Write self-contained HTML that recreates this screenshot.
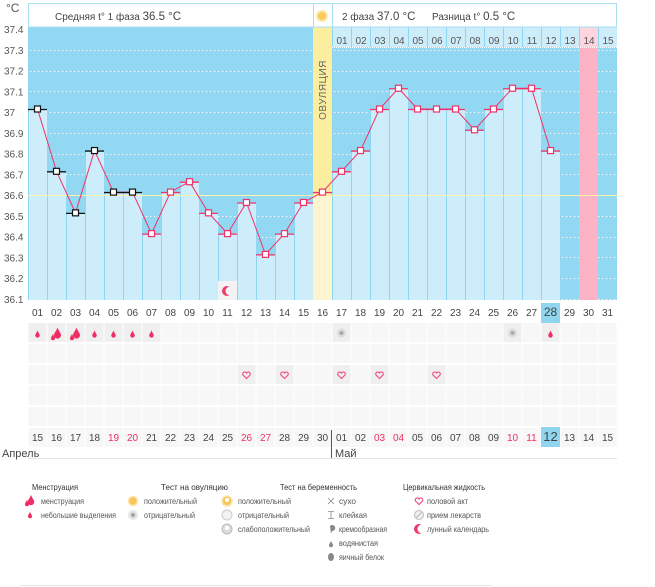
<!DOCTYPE html>
<html><head><meta charset="utf-8">
<style>
html,body{margin:0;padding:0;background:#fff;}
svg{display:block;font-family:"Liberation Sans","DejaVu Sans",sans-serif;}
</style></head>
<body>
<svg id="s" width="655" height="587" viewBox="0 0 655 587" xmlns="http://www.w3.org/2000/svg"></svg>
<script>
var S=document.getElementById('s');
var h='';
function X(i){return 28+19*(i-1);}
function Y(v){return 29+(37.4-v)/0.1*20.77-1;}
h+='<rect x="28" y="27" width="589" height="273" fill="#93d8f2"/>';
for(var k=0;k<13;k++){var v=37.3-k*0.1;var y=Math.round(Y(v)+1)+0.5;
 h+='<line x1="30" x2="617" y1="'+y+'" y2="'+y+'" stroke="#fff" stroke-dasharray="1.2,2.8" stroke-width="1"/>';}
var vals=[37.01,36.71,36.51,36.81,36.61,36.61,36.41,36.61,36.66,36.51,36.41,36.56,36.31,36.41,36.56,36.61,36.71,36.81,37.01,37.11,37.01,37.01,37.01,36.91,37.01,37.11,37.11,36.81];
h+='<rect x="'+X(16)+'" y="27" width="19" height="273" fill="#fbee9e"/>';
h+='<rect x="'+X(16)+'" y="195" width="19" height="105" fill="#fdf5cf"/>';
h+='<rect x="'+X(30)+'" y="27" width="19" height="273" fill="#fbb3c5"/>';
for(var i=1;i<=28;i++){if(i==16)continue;var y=Y(vals[i-1]);
 h+='<rect x="'+X(i)+'" y="'+y+'" width="19" height="'+(300-y)+'" fill="#cdedfb"/>';
 h+='<line x1="'+(X(i)+0.5)+'" x2="'+(X(i)+0.5)+'" y1="'+y+'" y2="300" stroke="#8fd5ef"/>';}
h+='<line x1="'+(X(17)+0.5)+'" x2="'+(X(17)+0.5)+'" y1="27" y2="300" stroke="#8fd5ef"/>';
for(var i=17;i<=31;i++){var fill=i==30?'#fcd5df':'#cdedfb';
 h+='<rect x="'+X(i)+'" y="27" width="19" height="20" fill="'+fill+'"/>';
 h+='<line x1="'+(X(i)+0.5)+'" x2="'+(X(i)+0.5)+'" y1="27" y2="47" stroke="#8fd5ef"/>';
 var d=i-16;h+='<text x="'+(X(i)+10)+'" y="44" font-size="10" fill="#555" text-anchor="middle">'+(d<10?'0'+d:d)+'</text>';}
h+='<line x1="'+X(17)+'" x2="617" y1="47.5" y2="47.5" stroke="#fff" stroke-dasharray="1,1"/>';
h+='<line x1="28" x2="617" y1="195.5" y2="195.5" stroke="#fdf2a8" stroke-width="1"/>';
h+='<text transform="translate(326,90) rotate(-90)" font-size="10" fill="#666" text-anchor="middle" letter-spacing="0.5">ОВУЛЯЦИЯ</text>';
var pts=[];for(var i=1;i<=28;i++)pts.push((X(i)+9.5)+','+Y(vals[i-1]));
h+='<polyline points="'+pts.join(' ')+'" fill="none" stroke="#f0326a" stroke-width="1"/>';
for(var i=1;i<=28;i++){var c=i<=6?'#111':'#f0326a';var y=Y(vals[i-1]);var cx=X(i)+9.5;
 h+='<line x1="'+X(i)+'" x2="'+(X(i)+19)+'" y1="'+(y+0.5)+'" y2="'+(y+0.5)+'" stroke="'+c+'" stroke-width="1.3"/>';
 h+='<rect x="'+(cx-3)+'" y="'+(y-3)+'" width="6" height="6" fill="#fff" stroke="'+c+'" stroke-width="1.2"/>';}
h+='<rect x="28.5" y="3.5" width="588" height="23.5" fill="#fff" stroke="#a9def3"/>';
h+='<line x1="'+(X(16)+0.5)+'" x2="'+(X(16)+0.5)+'" y1="3" y2="27" stroke="#a9def3"/>';
h+='<line x1="'+(X(17)+0.5)+'" x2="'+(X(17)+0.5)+'" y1="3" y2="27" stroke="#a9def3"/>';
h+='<circle cx="322" cy="16" r="5" fill="#f9c95c" stroke="#fde7b0" stroke-width="2"/>';
h+='<text x="55" y="20" font-size="10" fill="#444">Средняя t° 1 фаза <tspan font-size="11.5">36.5 °C</tspan></text>';
h+='<text x="342" y="20" font-size="10" fill="#444">2 фаза <tspan font-size="11.5">37.0 °C</tspan></text>';
h+='<text x="432" y="20" font-size="10" fill="#444">Разница t° <tspan font-size="11.5">0.5 °C</tspan></text>';
h+='<text x="6" y="12" font-size="12" fill="#555">°C</text>';
for(var k=0;k<=13;k++){var v=(37.4-k*0.1);var s=v.toFixed(1);if(s=='37.0')s='37';
 h+='<text x="4" y="'+(Y(v)+5)+'" font-size="10" fill="#555">'+s+'</text>';}
h+='<rect x="'+X(11)+'" y="281" width="19" height="19" fill="#f3f3f3"/>';
h+='<circle cx="'+(X(11)+9)+'" cy="291" r="5" fill="#f03a6a"/><circle cx="'+(X(11)+12)+'" cy="291" r="4.5" fill="#f3f3f3"/>';
h+='<rect x="'+X(28)+'" y="303" width="19" height="20" fill="#8fd5ef"/>';
for(var i=1;i<=31;i++){var t=i<10?'0'+i:''+i;
 h+='<text x="'+(X(i)+9.5)+'" y="316" font-size="'+(i==28?12:10)+'" fill="#444" text-anchor="middle">'+t+'</text>';}
var rows=[323,344,365,386,407];
var filled={'0':[1,2,3,4,5,6,7,17,26,28],'2':[12,14,17,19,22]};
for(var r=0;r<5;r++)for(var i=1;i<=31;i++){var f=filled[r]&&filled[r].indexOf(i)>=0;
 h+='<rect x="'+(X(i)+0.5)+'" y="'+rows[r]+'" width="18" height="19" fill="'+(f?'#efefef':'#f7f7f8')+'"/>';}
function drop(cx,cy,s,c){return '<path d="M'+cx+','+(cy-4*s)+' C'+(cx+1*s)+','+(cy-1*s)+' '+(cx+2.5*s)+','+(cy)+' '+(cx+2.5*s)+','+(cy+1.5*s)+' A'+2.5*s+','+2.5*s+' 0 0 1 '+(cx-2.5*s)+','+(cy+1.5*s)+' C'+(cx-2.5*s)+','+cy+' '+(cx-1*s)+','+(cy-1*s)+' '+cx+','+(cy-4*s)+'Z" fill="'+(c||'#ef2e63')+'"/>';}
[1,4,5,6,7,28].forEach(function(i){h+=drop(X(i)+9.5,334,0.9);});
[2,3].forEach(function(i){h+=drop(X(i)+10.5,333,1.4);h+=drop(X(i)+6,337,0.8);});
[17,26].forEach(function(i){h+='<circle cx="'+(X(i)+9.5)+'" cy="333" r="5" fill="#ddd" stroke="#eee"/><circle cx="'+(X(i)+9.5)+'" cy="333" r="2" fill="#aaa"/>';});
function heart(cx,cy,c){return '<path d="M'+cx+','+(cy+3.5)+' L'+(cx-3.5)+','+(cy)+' A1.8,1.8 0 0 1 '+cx+','+(cy-2)+' A1.8,1.8 0 0 1 '+(cx+3.5)+','+cy+' Z" fill="none" stroke="'+(c||'#f0508a')+'" stroke-width="1.2"/>';}
[12,14,17,19,22].forEach(function(i){h+=heart(X(i)+9.5,375);});
for(var i=1;i<=31;i++)h+='<rect x="'+(X(i)+0.5)+'" y="428" width="18" height="19" fill="#f7f7f8"/>';
h+='<rect x="'+X(28)+'" y="427" width="19" height="20" fill="#8fd5ef"/>';
var red=[5,6,12,13,19,20,26,27];
for(var i=1;i<=31;i++){var d=i<=16?14+i:i-16;var t=d<10?'0'+d:''+d;
 h+='<text x="'+(X(i)+9.5)+'" y="441" font-size="'+(i==28?13:10)+'" fill="'+(red.indexOf(i)>=0?'#f0305f':'#444')+'" text-anchor="middle">'+t+'</text>';}
h+='<text x="2" y="457" font-size="11" fill="#444">Апрель</text>';
h+='<text x="335" y="457" font-size="11" fill="#444">Май</text>';
h+='<line x1="28" x2="617" y1="458.5" y2="458.5" stroke="#e4e4e4"/>';
h+='<line x1="331.5" x2="331.5" y1="430" y2="458" stroke="#555"/>';
function tx(x,y,s,c,fs,w){return '<text x="'+x+'" y="'+y+'" font-size="'+(fs||8)+'" fill="'+(c||'#555')+'"'+(w?' textLength="'+w+'" lengthAdjust="spacingAndGlyphs"':'')+'>'+s+'</text>';}
h+=tx(32,490,'Менструация','#333',8.5,46)+tx(161,490,'Тест на овуляцию','#333',8.5,67)+tx(280,490,'Тест на беременность','#333',8.5,77)+tx(403,490,'Цервикальная жидкость','#333',8.5,82);
h+=drop(31,500,1.3)+drop(27,503,0.8)+tx(41,504,'менструация',0,0,43)+drop(30,515,0.8)+tx(41,518,'небольшие выделения',0,0,75);
h+='<circle cx="133" cy="501" r="4.5" fill="#f8c65a" stroke="#fde5ad" stroke-width="1.5"/>'+tx(144,504,'положительный',0,0,53);
h+='<circle cx="133" cy="515" r="4.5" fill="#ddd" stroke="#eee" stroke-width="1.5"/><circle cx="133" cy="515" r="1.8" fill="#999"/>'+tx(144,518,'отрицательный',0,0,51);
h+='<circle cx="227" cy="501" r="5" fill="#f8c65a" stroke="#fde5ad" stroke-width="1.5"/><circle cx="227" cy="500" r="2" fill="#fff"/>'+tx(238,504,'положительный',0,0,53);
h+='<circle cx="227" cy="515" r="5" fill="#f2f2f2" stroke="#ccc"/>'+tx(238,518,'отрицательный',0,0,51);
h+='<circle cx="227" cy="529" r="5" fill="#ddd" stroke="#bbb"/><circle cx="227" cy="528" r="2" fill="#fff"/>'+tx(238,532,'слабоположительный',0,0,72);
h+='<path d="M328,498 l6,6 M334,498 l-6,6" stroke="#888" stroke-width="0.8"/>'+tx(339,504,'сухо',0,0,17);
h+='<path d="M328,511.5 h6 M331,511.5 v7 M328,518.5 h6" stroke="#888" stroke-width="0.8"/>'+tx(339,518,'клейкая',0,0,28);
h+='<path d="M330,526 a3,3 0 1 1 2,5 l-1,3 z" fill="#888"/>'+tx(339,532,'кремообразная',0,0,48);
h+=drop(331,544,0.8,'#888')+tx(339,546,'водянистая',0,0,39);
h+='<ellipse cx="331" cy="557" rx="3" ry="4" fill="#888"/>'+tx(339,560,'яичный белок',0,0,45);
h+=heart(419,501,'#f0508a')+tx(427,504,'половой акт',0,0,41);
h+='<circle cx="419" cy="515" r="4.5" fill="#eee" stroke="#bbb"/><line x1="416" y1="518" x2="422" y2="512" stroke="#bbb"/>'+tx(427,518,'прием лекарств',0,0,54);
h+='<circle cx="419" cy="529" r="5" fill="#f03a6a"/><circle cx="422" cy="529" r="4.5" fill="#fff"/>'+tx(427,532,'лунный календарь',0,0,62);
h+='<line x1="20" x2="492" y1="585.5" y2="585.5" stroke="#e8e8e8"/>';
S.innerHTML=h;
</script>
</body></html>
